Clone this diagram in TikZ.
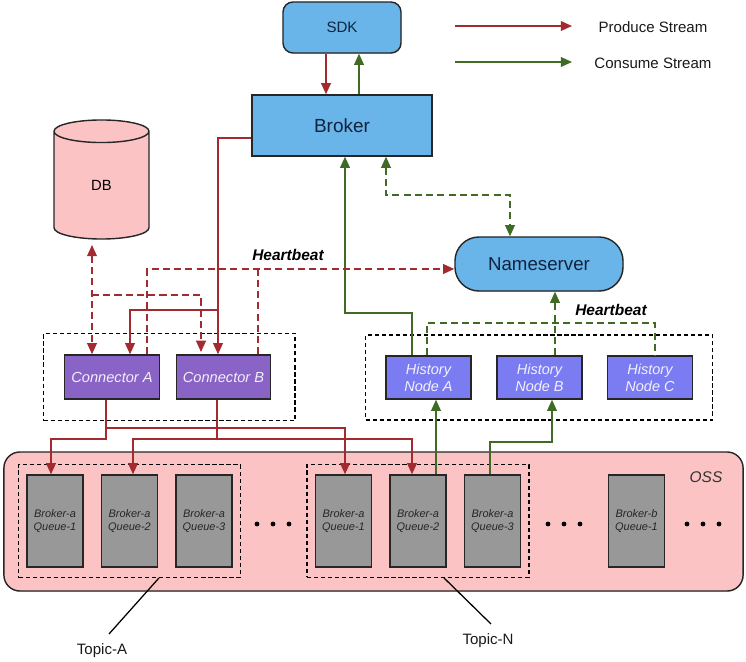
\documentclass[tikz,border=0pt]{standalone}
\usepackage{fontspec}
\setmainfont{Liberation Sans}
\usepackage{xcolor}
\usetikzlibrary{shapes.geometric, arrows.meta, positioning, calc, fit, shadows}
\definecolor{serverblue}{HTML}{69B4E8}
\definecolor{ossRose}{HTML}{FBC3C3}
\definecolor{connpurple}{HTML}{8A63C6}
\definecolor{histviolet}{HTML}{7B7BF2}
\definecolor{queuegray}{HTML}{989898}
\definecolor{prodred}{HTML}{A32B30}
\definecolor{consgreen}{HTML}{3F6B24}
\definecolor{inknavy}{HTML}{10233F}
\tikzset{
  softshadow/.style={drop shadow={shadow xshift=0.4pt, shadow yshift=-0.6pt, opacity=0.3}},
  boxbase/.style={draw=black!85, line width=1pt, inner sep=0pt, align=center, softshadow},
  serverbox/.style={boxbase, fill=serverblue, text=inknavy},
  connbox/.style={boxbase, fill=connpurple, text=white!90!connpurple, minimum width=2.36cm, minimum height=1.1cm,
    font=\fontsize{10.4}{12}\selectfont\itshape},
  histbox/.style={boxbase, fill=histviolet, text=white!90!histviolet, minimum width=2.125cm, minimum height=1.075cm,
    font=\fontsize{10.3}{12}\selectfont\itshape},
  queuebox/.style={boxbase, fill=queuegray, text=black!85, minimum width=1.39cm, minimum height=2.3cm,
    font=\fontsize{7.8}{9.4}\selectfont\itshape},
  groupbox/.style={draw=black, line width=0.9pt, dash pattern=on 3pt off 2pt, inner sep=0pt},
  plainlabel/.style={font=\fontsize{10.7}{12}\selectfont, text=black!90},
  beatlabel/.style={font=\fontsize{11}{12}\selectfont\bfseries\itshape},
  prodline/.style={draw=prodred, line width=1pt, -{Triangle[length=8pt,width=7pt]}},
  consline/.style={draw=consgreen, line width=1pt, -{Triangle[length=8pt,width=7pt]}},
  bothtips/.style={{Triangle[length=8pt,width=7pt]}-{Triangle[length=8pt,width=7pt]}},
  beatdash/.style={dash pattern=on 5pt off 3pt}
}
\begin{document}
\begin{tikzpicture}[x=0.025cm, y=-0.025cm]
  \useasboundingbox (0,0) rectangle (746,662);

  % OSS storage tray and the queues on it
  \node[boxbase, fill=ossRose, rounded corners=0.4cm, minimum width=18.475cm, minimum height=3.475cm] (oss) at (373.5,521.5) {};
  \node[font=\fontsize{11}{12}\selectfont\itshape, text=black!80] (osslabel) at (706,477) {OSS};
  \node[queuebox] (qa1) at (55,521) {Broker-a\\Queue-1};
  \node[queuebox] (qa2) at (129.5,521) {Broker-a\\Queue-2};
  \node[queuebox] (qa3) at (204,521) {Broker-a\\Queue-3};
  \node[queuebox] (qn1) at (343.5,521) {Broker-a\\Queue-1};
  \node[queuebox] (qn2) at (418,521) {Broker-a\\Queue-2};
  \node[queuebox] (qn3) at (492.5,521) {Broker-a\\Queue-3};
  \node[queuebox] (qb1) at (636.5,521) {Broker-b\\Queue-1};
  \foreach \x in {257,273,289,548,564,580,687,703,719}
    \fill (\x,524) circle (0.06cm);

  % Topic groups
  \node[groupbox, inner xsep=0.2cm, inner ysep=0.24cm, fit=(qa1)(qa3)] (topica) {};
  \node[groupbox, inner xsep=0.2cm, inner ysep=0.24cm, fit=(qn1)(qn3)] (topicn) {};
  \node[plainlabel] (topicalabel) at (102,651) {Topic-A};
  \node[plainlabel] (topicnlabel) at (488,641) {Topic-N};
  \coordinate (topicaend) at (109,634);
  \coordinate (topicnend) at (491,624);
  \draw[line width=0.9pt] (topica.south -| 159,0) -- (topicaend);
  \draw[line width=0.9pt] (topicn.south -| 444,0) -- (topicnend);

  % Top of the diagram
  \node[serverbox, rounded corners=0.25cm, minimum width=2.95cm, minimum height=1.275cm, font=\fontsize{10.7}{12}\selectfont] (sdk) at (342,27.5) {SDK};
  \node[serverbox, minimum width=4.5cm, minimum height=1.525cm, font=\fontsize{13.5}{15}\selectfont] (broker) at (342,125.5) {Broker};
  \node[serverbox, rounded corners=0.6cm, minimum width=4.2cm, minimum height=1.35cm, font=\fontsize{13.3}{15}\selectfont] (nameserver) at (539,264) {Nameserver};
  \node[cylinder, shape border rotate=90, aspect=1.1, draw=black!85, line width=1pt, fill=ossRose, inner sep=0pt,
    minimum width=2.375cm, minimum height=2.975cm, font=\fontsize{10.5}{12}\selectfont, anchor=shape center] (db) at (101.5,179.5) {DB};

  % Connector and history tiers
  \node[connbox] (conna) at (112,377) {Connector A};
  \node[connbox] (connb) at (223.5,377) {Connector B};
  \node[histbox] (hista) at (428.5,377.5) {History\\Node A};
  \node[histbox] (histb) at (539.5,377.5) {History\\Node B};
  \node[histbox] (histc) at (650,377.5) {History\\Node C};
  \node[groupbox, inner xsep=0.55cm, inner ysep=0.52cm, xshift=0.04cm, fit=(conna)(connb)] (conngroup) {};
  \node[groupbox, inner xsep=0.49cm, inner ysep=0.51cm, fit=(hista)(histc)] (histgroup) {};
  \node[beatlabel] (beatleft) at (288,255) {Heartbeat};
  \node[beatlabel] (beatright) at (611,310) {Heartbeat};

  % Legend
  \coordinate (prodstart) at (455,26);
  \coordinate (prodend) at (572,26);
  \coordinate (consstart) at (455,62);
  \coordinate (consend) at (572,62);
  \draw[prodline] (prodstart) -- (prodend);
  \draw[consline] (consstart) -- (consend);
  \node[plainlabel] (prodlabel) at (653,27) {Produce Stream};
  \node[plainlabel] (conslabel) at (653,63) {Consume Stream};

  % Produce path
  \draw[prodline] (sdk.south -| 326,0) -- (broker.north -| 326,0);
  \coordinate (prodjoin) at (218,310);
  \draw[prodline] (broker.west |- 0,138) -| (connb.north -| 218,0);
  \draw[prodline] (prodjoin) -| (conna.north -| 130,0);
  \coordinate (prodfork) at (106,428);
  \coordinate (prodturn) at (106,439);
  \coordinate (prodforkb) at (217,439);
  \draw[prodline] (conna.south -| 106,0) -- (prodturn) -| (qa1.north -| 51,0);
  \draw[prodline] (prodfork) -| (qn1.north -| 345,0);
  \draw[prodline] (connb.south -| 217,0) -- (prodforkb) -| (qa2.north -| 133,0);
  \draw[prodline] (prodforkb) -| (qn2.north -| 412,0);

  % Consume path
  \draw[consline] (broker.north -| 359,0) -- (sdk.south -| 359,0);
  \draw[consline] (hista.north -| 412,0) |- (345,313) -- (broker.south -| 345,0);
  \draw[consline] (qn2.north -| 436,0) -- (hista.south -| 436,0);
  \draw[consline] (qn3.north -| 490,0) |- (552,442) -- (histb.south -| 552,0);

  % Dashed heartbeat and lookup links
  \coordinate (beatred) at (258,269);
  \draw[prodline, beatdash] (conna.north -| 147,0) |- (nameserver.west |- 0,269);
  \draw[prodline, beatdash, -] (connb.north -| 258,0) -- (beatred);
  \coordinate (dbfork) at (92,295);
  \draw[prodline, beatdash, bothtips] (92,245) -- (conna.north -| 92,0);
  \draw[prodline, beatdash] (dbfork) -| (201,352);
  \draw[consline, beatdash, bothtips] (broker.south -| 386,0) |- (510,195) -- (nameserver.north -| 510,0);
  \draw[consline, beatdash] (histb.north -| 555,0) -- (nameserver.south -| 555,0);
  \draw[consline, beatdash, -] (hista.north -| 427,0) |- (655,323) -- (histc.north -| 655,0);
\end{tikzpicture}
\end{document}
